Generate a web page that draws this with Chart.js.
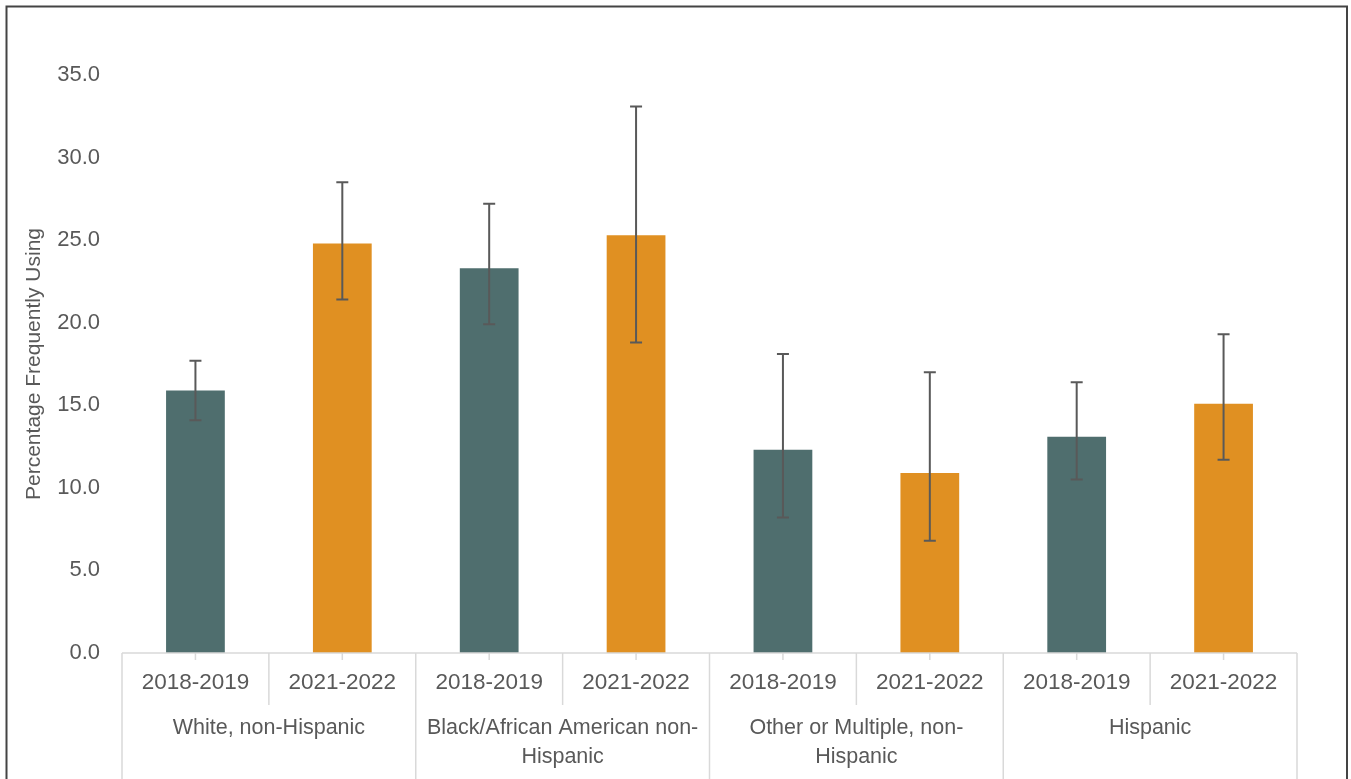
<!DOCTYPE html>
<html>
<head>
<meta charset="utf-8">
<script src="https://cdn.jsdelivr.net/npm/chart.js@4.4.0/dist/chart.umd.min.js"></script>
<style>
  html, body { margin: 0; padding: 0; background: #fff; overflow: hidden; }
  canvas { display: block; }
</style>
</head>
<body>
<canvas id="chart" width="1351" height="779"></canvas>
<script>
// periods under each group, one bar each
const periods = ["2018-2019", "2021-2022", "2018-2019", "2021-2022", "2018-2019", "2021-2022", "2018-2019", "2021-2022"];
// group labels, already split into lines as in the picture
const groups = [
  ["White, non-Hispanic"],
  ["Black/African American non-", "Hispanic"],
  ["Other or Multiple, non-", "Hispanic"],
  ["Hispanic"]
];
const values  = [15.9, 24.8, 23.3, 25.3, 12.3, 10.9, 13.1, 15.1];
const errLow  = [14.1, 21.4, 19.9, 18.8, 8.2, 6.8, 10.5, 11.7];
const errHigh = [17.7, 28.5, 27.2, 33.1, 18.1, 17.0, 16.4, 19.3];
const yTicks  = [0, 5, 10, 15, 20, 25, 30, 35];

const teal = "#4f6e6e";
const orange = "#e09022";
const textColor = "#595959";
const lineColor = "#d9d9d9";
const fontFamily = "'Liberation Sans', Arial, sans-serif";

// error bars
const errorBars = {
  id: "errorBars",
  afterDatasetsDraw(chart) {
    const ctx = chart.ctx;
    const x = chart.scales.x, y = chart.scales.y;
    ctx.save();
    ctx.strokeStyle = "#595959";
    ctx.lineWidth = 2;
    for (let i = 0; i < values.length; i++) {
      const px = x.getPixelForValue(i);
      const lo = y.getPixelForValue(errLow[i]);
      const hi = y.getPixelForValue(errHigh[i]);
      ctx.beginPath();
      ctx.moveTo(px, lo); ctx.lineTo(px, hi);
      ctx.moveTo(px - 6, lo); ctx.lineTo(px + 6, lo);
      ctx.moveTo(px - 6, hi); ctx.lineTo(px + 6, hi);
      ctx.stroke();
    }
    ctx.restore();
  }
};

// x axis: ticks, dividers, group labels, plus the outer frame
const groupAxis = {
  id: "groupAxis",
  afterDraw(chart) {
    const ctx = chart.ctx;
    const x = chart.scales.x;
    const base = chart.chartArea.bottom;
    const H = chart.height;
    ctx.save();
    ctx.strokeStyle = lineColor;
    ctx.lineWidth = 1.5;
    // axis line
    ctx.beginPath();
    ctx.moveTo(chart.chartArea.left, base);
    ctx.lineTo(chart.chartArea.right, base);
    ctx.stroke();
    // tick marks at bar centers
    for (let i = 0; i < periods.length; i++) {
      const px = x.getPixelForValue(i);
      ctx.beginPath();
      ctx.moveTo(px, base); ctx.lineTo(px, base + 7);
      ctx.stroke();
    }
    // dividers between categories
    for (let i = 0; i <= periods.length; i++) {
      const px = x.getPixelForValue(i - 0.5);
      const bottom = (i % 2 === 0) ? H : base + 52;
      ctx.beginPath();
      ctx.moveTo(px, base); ctx.lineTo(px, bottom);
      ctx.stroke();
    }
    // group labels
    ctx.fillStyle = textColor;
    ctx.font = "21.5px " + fontFamily;
    ctx.textAlign = "center";
    ctx.textBaseline = "middle";
    groups.forEach((lines, g) => {
      const cx = x.getPixelForValue(g * 2 + 0.5);
      lines.forEach((t, k) => ctx.fillText(t, cx, 728 + k * 29));
    });
    // frame
    ctx.strokeStyle = "#444";
    ctx.lineWidth = 2;
    ctx.strokeRect(6.5, 6.5, 1340.5, 800);
    ctx.restore();
  }
};

new Chart(document.getElementById("chart"), {
  type: "bar",
  data: {
    labels: periods,
    datasets: [{
      data: values,
      backgroundColor: values.map((v, i) => i % 2 === 0 ? teal : orange),
      borderWidth: 0,
      categoryPercentage: 1,
      barPercentage: 0.4
    }]
  },
  options: {
    responsive: false,
    animation: false,
    events: [],
    layout: { padding: { top: 75, right: 54, left: 0, bottom: 0 } },
    plugins: { legend: { display: false }, tooltip: { enabled: false } },
    scales: {
      x: {
        grid: { display: false, drawTicks: false },
        border: { display: false },
        ticks: {
          color: textColor,
          font: { family: fontFamily, size: 22.5 },
          padding: 16,
          maxRotation: 0,
          autoSkip: false
        },
        afterFit(scale) { scale.height = 126; }
      },
      y: {
        min: 0,
        max: 35,
        grid: { display: false, drawTicks: false },
        border: { display: false },
        afterBuildTicks(scale) { scale.ticks = yTicks.map(v => ({ value: v })); },
        ticks: {
          color: textColor,
          font: { family: fontFamily, size: 22 },
          padding: 22,
          callback: v => Number(v).toFixed(1)
        },
        title: {
          display: true,
          text: "Percentage Frequently Using",
          color: textColor,
          font: { family: fontFamily, size: 21 },
          padding: { top: 22, bottom: 0 }
        },
        afterFit(scale) { scale.width = 122; }
      }
    }
  },
  plugins: [errorBars, groupAxis]
});
</script>
</body>
</html>
